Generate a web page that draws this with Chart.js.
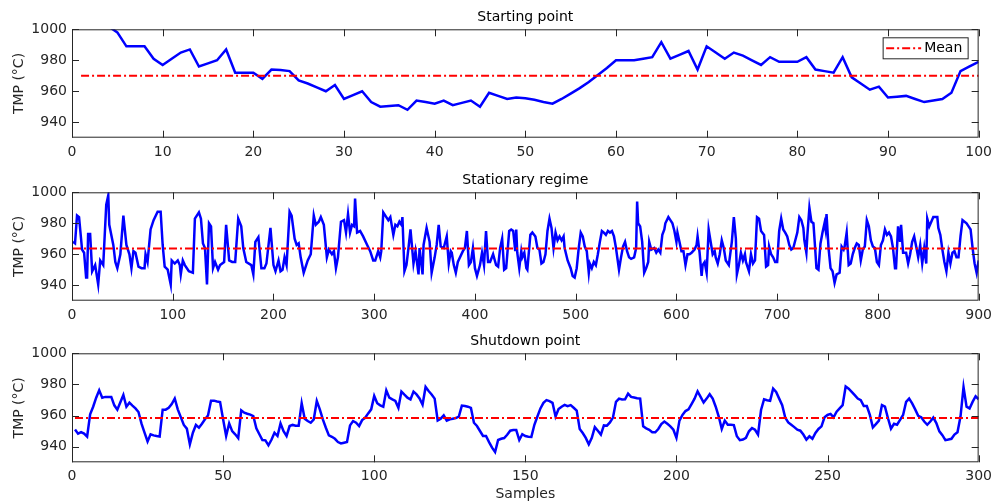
<!DOCTYPE html>
<html>
<head>
<meta charset="utf-8">
<script src="https://cdn.jsdelivr.net/npm/chart.js@4.4.1/dist/chart.umd.min.js"></script>
<style>
  body { margin: 0; background: #fff; }
  #wrap { position: relative; width: 998px; height: 504px; }
  canvas { position: absolute; left: 0; }
</style>
</head>
<body>
<div id="wrap">
  <canvas id="start" width="998" height="165" style="top:0"></canvas>
  <canvas id="stat" width="998" height="165" style="top:165px"></canvas>
  <canvas id="shut" width="998" height="174" style="top:330px"></canvas>
</div>
<script>
// ---- data ----
const yTicks = [940, 960, 980, 1000]
const startTicks = [0, 10, 20, 30, 40, 50, 60, 70, 80, 90, 100]
const statTicks = [0, 100, 200, 300, 400, 500, 600, 700, 800, 900]
const shutTicks = [0, 50, 100, 150, 200, 250, 300]

const startMean = 970
const statMean = 963.7
const shutMean = 958.5

// starting point, samples 1..100
const startVals = [
  1012, 1009, 1006, 1002, 998, 989, 989, 989, 981, 977,
  981, 985, 987, 976, 978, 980, 987, 972, 972, 972,
  968, 974, 973.7, 973, 967, 965, 962.5, 960, 964, 955,
  957.5, 960, 953, 950, 950.5, 951, 948, 954, 953, 952,
  954, 951, 952.5, 954, 950, 959, 957, 955, 956, 955.5,
  954.5, 953, 952, 955, 958.5, 962, 966, 970.5, 975, 980,
  980, 980, 981, 982, 991.7, 981, 983.5, 986, 974, 989,
  985, 981, 985, 983, 980, 977, 982, 979, 979, 979,
  982, 974, 973, 972, 982, 969, 965, 961, 963, 956,
  956.5, 957, 955, 953, 954, 955, 959, 973, 976, 979,
]

// stationary regime, turning points (sample index, value)
const statX = [
  1, 3, 5, 7, 10, 12, 14, 15, 16, 18,
  20, 23, 26, 28, 31, 34, 36, 37, 41, 43,
  45, 48, 51, 54, 57, 59, 61, 63, 66, 69,
  72, 73, 75, 78, 81, 85, 88, 90, 92, 95,
  98, 99, 102, 105, 107, 108, 110, 112, 116, 120,
  122, 126, 128, 130, 132, 134, 136, 138, 140, 142,
  145, 147, 151, 153, 156, 159, 162, 165, 168, 170,
  173, 178, 180, 182, 185, 188, 191, 193, 197, 200,
  202, 205, 207, 209, 211, 213, 216, 218, 221, 223,
  225, 227, 230, 232, 234, 237, 240, 242, 245, 247,
  250, 253, 255, 258, 260, 262, 264, 267, 270, 272,
  274, 276, 278, 280, 281, 283, 286, 289, 293, 296,
  299, 301, 304, 306, 307, 309, 312, 314, 316, 319,
  321, 323, 325, 327, 328, 330, 332, 334, 336, 339,
  341, 344, 345, 348, 349, 352, 355, 357, 360, 362,
  364, 366, 369, 372, 374, 376, 377, 379, 381, 383,
  388, 390, 392, 394, 396, 398, 400, 402, 405, 407,
  409, 411, 413, 415, 418, 421, 423, 425, 427, 429,
  431, 434, 436, 438, 440, 441, 442, 444, 446, 447,
  449, 451, 452, 455, 457, 460, 462, 464, 466, 468,
  470, 472, 474, 476, 478, 480, 482, 484, 486, 488,
  489, 492, 495, 497, 499, 501, 503, 505, 507, 509,
  511, 513, 514, 516, 518, 520, 522, 524, 526, 528,
  530, 532, 534, 536, 538, 540, 543, 545, 547, 549,
  551, 553, 555, 558, 560, 561, 562, 564, 566, 568,
  570, 572, 573, 575, 578, 580, 582, 584, 586, 588,
  589, 592, 594, 596, 598, 600, 601, 603, 605, 607,
  609, 611, 613, 615, 618, 620, 621, 623, 625, 626,
  628, 630, 632, 634, 636, 638, 639, 641, 643, 645,
  647, 649, 652, 655, 657, 659, 660, 662, 664, 666,
  668, 669, 672, 674, 676, 678, 680, 682, 684, 687,
  689, 691, 692, 694, 696, 698, 700, 702, 704, 706,
  708, 710, 712, 714, 716, 718, 720, 722, 724, 726,
  727, 729, 730, 732, 734, 736, 738, 739, 741, 743,
  745, 747, 748, 749, 751, 753, 755, 757, 759, 762,
  764, 766, 767, 769, 771, 773, 775, 777, 779, 781,
  783, 785, 787, 789, 791, 793, 795, 797, 799, 801,
  803, 805, 807, 809, 811, 813, 815, 817, 818, 820,
  822, 823, 825, 828, 830, 832, 834, 836, 838, 840,
  842, 844, 846, 848, 849, 851, 853, 855, 859, 860,
  862, 864, 866, 868, 870, 872, 874, 876, 878, 880,
  882, 884, 886, 888, 890, 892, 894, 896, 898, 900,
]
const statVals = [
  968, 967, 985, 984, 963, 961, 945, 945, 973, 973,
  949, 953, 940.5, 956, 953, 992, 998, 979, 966, 955,
  951, 960, 985, 966, 960, 951, 962, 961, 952, 951,
  951, 960, 955, 976, 982, 987.5, 987.5, 966, 952, 950,
  940.5, 956, 954, 956, 953, 947, 956, 953, 949, 948,
  983, 987, 983, 967, 964, 940.5, 980, 978, 951, 955,
  950, 953, 955, 979, 956, 955, 955, 983, 978, 964,
  955, 953, 947, 968, 971, 951, 951, 954, 977, 953,
  949, 956, 949, 950, 958, 953, 987.5, 985, 970, 966,
  967, 958, 948, 952, 956, 960, 985, 979, 981, 984,
  979, 958, 963, 960, 962, 951, 958, 981, 982, 974,
  986, 974, 979, 978, 996, 974, 975, 971.5, 966, 962,
  956, 956, 962, 958, 962, 987, 984, 982, 984, 972.5,
  979, 978, 981, 979, 984, 949, 953, 964, 976, 954,
  962, 947, 964, 947, 966, 977, 968, 948, 958, 966,
  979, 965, 964, 971.5, 954, 962, 961, 953, 948, 955,
  962, 964, 975, 953, 955, 964, 951, 946, 953, 961,
  953, 975, 955, 955, 960, 953, 952, 964, 970, 950,
  951, 975, 976, 975, 962, 976, 961, 951, 962, 958,
  961, 951, 950, 972.5, 974, 971.5, 964, 963, 954, 955,
  960, 975, 983, 977, 964, 974, 969, 971.5, 969, 971.5,
  964, 956, 951, 946, 945, 951, 964, 974, 971.5, 965,
  962, 948, 954, 951, 955, 953, 960, 968, 975, 974,
  972.5, 975, 974, 975, 971.5, 964, 950, 958, 965, 968,
  962, 958, 957, 958, 964, 994, 980, 978, 968, 948,
  951, 955, 968, 963, 964, 961, 963, 961, 972.5, 976,
  980, 984, 982, 980, 975, 968, 974, 968, 962, 962,
  953, 960, 960, 961, 963, 966, 971.5, 961, 946, 953,
  955, 948, 976, 968, 960, 962, 958, 954, 960, 969,
  964, 956, 953, 968, 984, 970, 947, 953, 961, 956,
  960, 955, 949, 960, 954, 956, 984, 983, 975, 972.5,
  952, 953, 965, 960, 958, 955, 955, 975, 983, 976,
  974, 971.5, 966, 963, 964, 969, 974, 984, 982, 977,
  969, 961, 972.5, 990, 981, 980, 961, 951, 950, 967,
  974, 980, 976, 986, 964, 951, 949, 941.5, 947, 948,
  965, 963, 965, 974, 953, 954, 960, 964, 967, 966,
  956, 963, 965, 982, 978, 969, 965, 964, 955, 953,
  966, 969, 976, 972.5, 974, 971.5, 964, 951, 951, 978,
  968, 979, 961, 961, 954, 960, 968, 971.5, 965, 958,
  966, 954, 964, 954, 983, 978, 981, 984, 984, 977,
  972.5, 963, 955, 949, 961, 954, 961, 962, 958, 958,
  971.5, 982, 981, 980, 978, 976, 964, 954, 948, 956,
]

// shutdown point, samples 1..300
const shutVals = [
  951, 948.4, 949.4, 948.4, 946.5, 960.8, 965.7, 971.5, 976.2, 971.5,
  972, 972, 972, 966.6, 963.8, 968.5, 973.2, 965.7, 968.3, 966.4,
  964.6, 962.3, 954.8, 949, 943.4, 948, 947.3, 946.9, 946.6, 963.8,
  963.8, 965, 967.4, 971, 964, 959, 954, 951.6, 941.5, 949,
  954, 952.2, 954.8, 957.6, 960.1, 969.6, 969.6, 969.1, 968.7, 957.6,
  946.9, 955, 950, 948, 945.6, 963.4, 961.9, 961.2, 960.6, 959.7,
  951.8, 948, 944.3, 944.1, 940.9, 944.5, 949, 946.9, 955, 950,
  946.9, 953.3, 954, 953.5, 953.5, 967.9, 958, 956.5, 955.4, 957.6,
  969.4, 964, 957.6, 952.2, 947.3, 946.4, 945.1, 943, 942.1, 942.6,
  943, 953.7, 956.5, 955.4, 953.3, 957.1, 958.6, 961.4, 964, 972.6,
  967.9, 966.6, 965.7, 976.2, 971.5, 970.4, 969.4, 965, 975.4, 973.4,
  971.5, 970.4, 975.4, 973.6, 971, 967, 978.4, 975.8, 973.6, 970.9,
  956.9, 958, 960.1, 956.7, 957.6, 958, 958.4, 959.3, 966.4, 966.1,
  965.7, 964.9, 955.4, 953.3, 950.1, 946.9, 946.9, 943, 939.4, 936.6,
  944.3, 945.1, 945.6, 947.7, 950.3, 950.7, 950.7, 944.3, 948, 946.9,
  946.4, 946.3, 954.1, 959.4, 964.6, 968.2, 969.9, 969.3, 968.2, 959.4,
  964.2, 965.7, 966.9, 966.1, 966.7, 965, 963.2, 951.4, 948.8, 945.7,
  941.5, 945.7, 952.6, 950.3, 947.8, 953.7, 953.5, 955.6, 958.7, 968.8,
  970.9, 970.3, 970.5, 974.1, 972, 971.6, 971.2, 970.9, 953.1, 951.8,
  950.9, 949.3, 949.3, 951.4, 954.5, 956.2, 954.7, 953.1, 950.9, 945.7,
  956.8, 960.4, 962.9, 964, 967.4, 970.9, 975.6, 972, 968.4, 970.9,
  973.7, 970.9, 965.7, 959.4, 951.4, 956.8, 954.1, 954.1, 953.9, 946.7,
  944.2, 944.6, 945.7, 949.9, 952, 950.9, 947.8, 963.6, 970.5, 969.9,
  969.5, 977.3, 975.2, 970.9, 966.7, 958.7, 955.6, 954.1, 952.6, 950.9,
  950.3, 947.8, 944.6, 946.7, 945.1, 948.8, 951.4, 953.1, 958.9, 960.4,
  961.1, 958.9, 962.5, 964.6, 966.7, 978.7, 977.3, 975.2, 973.1, 970.9,
  969.9, 966.1, 966.1, 960.4, 952.4, 954.5, 956.8, 966.7, 965.7, 958.3,
  951.6, 954.7, 954.1, 957.3, 960.4, 968.8, 970.9, 967.8, 964, 959.8,
  958.9, 956.2, 954.1, 956.2, 958.7, 955.2, 949.9, 947.4, 944.2, 944.6,
  945.1, 947.8, 949.3, 959.4, 978.3, 965.7, 964.6, 968.8, 972.4, 970.5,
]

// ---- drawing ----
const FONT = { family: 'DejaVu Sans', size: 14 }
const INK = '#262626'
const TICK_LEN = 7

function fixedTicks(values) {
  return (scale) => { scale.ticks = values.map((v) => ({ value: v })) }
}

// MATLAB style box with inward ticks on all four sides
const boxPlugin = {
  id: 'matlabBox',
  afterDatasetsDraw(chart) {
    const { ctx, chartArea: a, scales: { x, y } } = chart
    ctx.save()
    ctx.strokeStyle = INK
    ctx.lineWidth = 1
    ctx.strokeRect(a.left + 0.5, a.top + 0.5, a.right - a.left - 1, a.bottom - a.top - 1)
    ctx.beginPath()
    x.ticks.forEach((t) => {
      const px = Math.round(x.getPixelForValue(t.value)) + 0.5
      ctx.moveTo(px, a.bottom); ctx.lineTo(px, a.bottom - TICK_LEN)
      ctx.moveTo(px, a.top); ctx.lineTo(px, a.top + TICK_LEN)
    })
    y.ticks.forEach((t) => {
      const py = Math.round(y.getPixelForValue(t.value)) + 0.5
      ctx.moveTo(a.left, py); ctx.lineTo(a.left + TICK_LEN, py)
      ctx.moveTo(a.right, py); ctx.lineTo(a.right - TICK_LEN, py)
    })
    ctx.stroke()
    ctx.restore()
  },
}

const meanLegend = {
  id: 'meanLegend',
  afterDraw(chart) {
    const ds = chart.data.datasets[1]
    const { ctx, chartArea: a } = chart
    const w = 85, h = 21
    const x0 = a.right - 11 - w + 0.5, y0 = a.top + 8 + 0.5
    ctx.save()
    ctx.fillStyle = '#fff'
    ctx.fillRect(x0, y0, w, h)
    ctx.strokeStyle = INK
    ctx.lineWidth = 1
    ctx.strokeRect(x0, y0, w, h)
    ctx.strokeStyle = ds.borderColor
    ctx.lineWidth = ds.borderWidth
    ctx.setLineDash(ds.borderDash)
    ctx.beginPath()
    ctx.moveTo(x0 + 3, y0 + h / 2)
    ctx.lineTo(x0 + 38, y0 + h / 2)
    ctx.stroke()
    ctx.setLineDash([])
    ctx.fillStyle = '#000'
    ctx.font = '14px "DejaVu Sans"'
    ctx.textBaseline = 'middle'
    ctx.fillText(ds.label, x0 + 41, y0 + h / 2 + 0.5)
    ctx.restore()
  },
}

function buildChart(id, cfg) {
  return new Chart(document.getElementById(id), {
    type: 'line',
    data: {
      datasets: [
        {
          label: 'TMP',
          data: cfg.points,
          borderColor: '#0000ff',
          borderWidth: 2.5,
          pointRadius: 0,
          tension: 0,
          clip: 0,
          order: 1,
        },
        {
          label: 'Mean',
          data: cfg.meanLine,
          borderColor: '#ff0000',
          borderWidth: 2,
          borderDash: [8, 3, 2, 3],
          pointRadius: 0,
          clip: 0,
          order: 0,
        },
      ],
    },
    options: {
      responsive: false,
      animation: false,
      layout: { padding: { left: 0, right: 13, top: 0, bottom: 0 } },
      plugins: {
        legend: { display: false },
        tooltip: { enabled: false },
        title: {
          display: true,
          text: cfg.title,
          color: '#000',
          font: { ...FONT, weight: 'normal' },
          fullSize: false,
          padding: cfg.titlePad,
        },
      },
      scales: {
        x: {
          type: 'linear',
          min: 0,
          max: cfg.xMax,
          afterBuildTicks: fixedTicks(cfg.xTicks),
          afterFit: (s) => { s.height = cfg.xHeight },
          grid: { display: false, drawTicks: false, tickLength: 0 },
          border: { display: false },
          ticks: { color: INK, font: FONT, padding: 6, maxRotation: 0, autoSkip: false, callback: (v) => String(v) },
          title: cfg.xTitle
            ? { display: true, text: cfg.xTitle, color: INK, font: FONT, padding: { top: 0, bottom: 1.6 } }
            : { display: false },
        },
        y: {
          type: 'linear',
          min: 930,
          max: 1000,
          afterBuildTicks: fixedTicks(yTicks),
          afterFit: (s) => { s.width = 72 },
          grid: { display: false, drawTicks: false, tickLength: 0 },
          border: { display: false },
          ticks: { color: INK, font: FONT, padding: 5, callback: (v) => String(v) },
          title: { display: true, text: 'TMP (°C)', color: INK, font: FONT, padding: { top: 10.6, bottom: 0 } },
        },
      },
    },
    plugins: [boxPlugin, ...(cfg.extra || [])],
  })
}

buildChart('start', {
  title: 'Starting point',
  titlePad: { top: 9.1, bottom: 3.4 },
  points: startVals.map((v, i) => ({ x: i + 1, y: v })),
  meanLine: [{ x: 1, y: startMean }, { x: startVals.length, y: startMean }],
  xMax: 100,
  xTicks: startTicks,
  xHeight: 27.3,
  extra: [meanLegend],
})

buildChart('stat', {
  title: 'Stationary regime',
  titlePad: { top: 6.6, bottom: 3.9 },
  points: statX.map((x, i) => ({ x, y: statVals[i] })),
  meanLine: [{ x: 1, y: statMean }, { x: 900, y: statMean }],
  xMax: 900,
  xTicks: statTicks,
  xHeight: 29.3,
})

buildChart('shut', {
  title: 'Shutdown point',
  titlePad: { top: 3.1, bottom: 3.4 },
  points: shutVals.map((v, i) => ({ x: i + 1, y: v })),
  meanLine: [{ x: 1, y: shutMean }, { x: shutVals.length, y: shutMean }],
  xMax: 300,
  xTicks: shutTicks,
  xHeight: 41.7,
  xTitle: 'Samples',
})
</script>
</body>
</html>
